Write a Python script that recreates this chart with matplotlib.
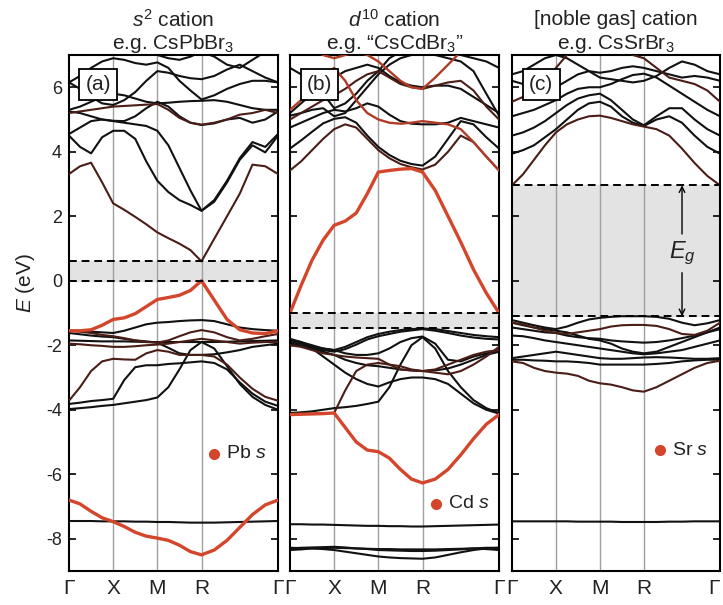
import matplotlib
matplotlib.use('Agg')
import matplotlib.pyplot as plt

plt.rcParams['font.family'] = ['Liberation Sans', 'DejaVu Sans']
plt.rcParams['mathtext.fontset'] = 'custom'
plt.rcParams['mathtext.rm'] = 'Liberation Sans'
plt.rcParams['mathtext.it'] = 'Liberation Sans:italic'
plt.rcParams['axes.unicode_minus'] = False

# k-path (Γ-X-M-R-Γ) sample positions
k_path = [0.0, 0.125, 0.25, 0.375, 0.5, 0.625, 0.75, 0.875, 1.0, 1.125, 1.25, 1.375, 1.5,
          1.644, 1.789, 1.933, 2.077, 2.222, 2.366]
k_ticks = [0.0, 0.5, 1.0, 1.5, 2.366]
k_labels = ['Γ', 'X', 'M', 'R', 'Γ']

# ---------------- (a) CsPbBr3 ----------------
a_red = [
    [-1.55, -1.55, -1.52, -1.38, -1.2, -1.15, -1.02, -0.8, -0.58, -0.52, -0.45, -0.3, 0.0, -0.6, -1.2, -1.52, -1.62, -1.64, -1.55],
    [-6.8, -6.92, -7.15, -7.35, -7.47, -7.62, -7.8, -7.92, -7.98, -8.05, -8.2, -8.4, -8.5, -8.35, -8.05, -7.65, -7.25, -6.95, -6.8],
]
a_dark = [
    [3.31, 3.55, 3.66, 3.05, 2.4, 2.2, 1.98, 1.75, 1.5, 1.32, 1.15, 0.95, 0.6, 1.3, 2.0, 2.7, 3.6, 3.55, 3.31],
    [5.2, 5.25, 5.3, 5.35, 5.4, 5.42, 5.44, 5.46, 5.48, 5.3, 5.05, 4.9, 4.84, 4.9, 5.0, 5.15, 5.2, 5.3, 5.2],
    [-1.55, -1.58, -1.62, -1.68, -1.72, -1.78, -1.85, -1.9, -1.92, -1.85, -1.72, -1.6, -1.53, -1.6, -1.75, -1.85, -1.8, -1.72, -1.65],
    [-3.72, -3.3, -2.8, -2.5, -2.42, -2.44, -2.45, -2.25, -2.15, -2.2, -2.3, -2.3, -2.3, -2.35, -2.6, -3.0, -3.35, -3.6, -3.72],
    [-1.95, -1.97, -2.0, -2.02, -2.05, -2.05, -2.03, -2.0, -1.98, -1.95, -1.9, -1.85, -1.8, -1.85, -1.9, -1.95, -1.92, -1.9, -1.9],
]
a_black = [
    [4.5, 4.15, 3.95, 4.45, 4.65, 4.65, 4.4, 3.7, 3.1, 2.75, 2.5, 2.35, 2.17, 2.45, 3.05, 3.75, 4.2, 3.98, 4.5],
    [4.55, 4.75, 4.95, 5.0, 4.95, 4.9, 4.85, 4.8, 4.65, 4.2, 3.5, 2.8, 2.17, 2.5, 3.1, 3.8, 4.3, 4.15, 4.55],
    [5.25, 5.2, 5.1, 5.0, 4.96, 4.95, 5.1, 5.35, 5.55, 5.4, 5.1, 4.9, 4.83, 4.88, 5.0, 5.05, 4.9, 5.0, 5.25],
    [5.3, 5.4, 5.55, 5.7, 5.8, 5.75, 5.65, 5.55, 5.5, 5.52, 5.55, 5.57, 5.58, 5.6, 5.55, 5.45, 5.35, 5.3, 5.3],
    [6.15, 5.95, 5.7, 5.5, 5.45, 5.6, 5.85, 6.2, 6.5, 6.45, 6.35, 6.28, 6.25, 6.35, 6.55, 6.7, 6.5, 6.3, 6.15],
    [6.15, 6.35, 6.6, 6.8, 6.9, 6.85, 6.75, 6.7, 6.77, 6.6, 6.2, 5.9, 5.62, 5.75, 5.95, 6.1, 6.2, 6.2, 6.15],
    [7.3, 7.2, 7.1, 7.0, 7.05, 7.15, 7.3, 7.2, 7.0, 6.9, 6.85, 6.95, 7.1, 6.95, 6.7, 6.6, 6.85, 7.1, 7.3],
    [-1.55, -1.56, -1.58, -1.6, -1.62, -1.55, -1.45, -1.35, -1.3, -1.28, -1.25, -1.23, -1.22, -1.25, -1.35, -1.45, -1.5, -1.53, -1.55],
    [-1.85, -1.86, -1.87, -1.88, -1.88, -1.88, -1.89, -1.9, -1.9, -1.9, -1.9, -1.9, -1.9, -1.9, -1.89, -1.88, -1.87, -1.86, -1.85],
    [-1.62, -1.66, -1.7, -1.73, -1.75, -1.8, -1.85, -1.88, -1.92, -2.08, -2.25, -2.3, -2.3, -2.28, -2.22, -2.15, -2.05, -2.0, -1.95],
    [-3.82, -3.78, -3.73, -3.7, -3.66, -3.08, -2.68, -2.62, -2.62, -2.58, -2.56, -2.53, -2.5, -2.55, -2.75, -3.15, -3.5, -3.75, -3.88],
    [-3.98, -3.95, -3.92, -3.88, -3.85, -3.8, -3.75, -3.7, -3.62, -3.3, -2.75, -2.15, -1.9, -2.1, -2.65, -3.2, -3.6, -3.85, -4.0],
    [-7.45, -7.45, -7.45, -7.46, -7.46, -7.46, -7.47, -7.47, -7.48, -7.48, -7.49, -7.5, -7.5, -7.5, -7.49, -7.48, -7.47, -7.46, -7.45],
]
a_gap = (0.0, 0.6)

# ---------------- (b) "CsCdBr3" ----------------
b_red = [
    [-1.0, -0.15, 0.64, 1.26, 1.72, 1.85, 2.1, 2.7, 3.37, 3.42, 3.46, 3.48, 3.37, 2.8, 2.0, 1.2, 0.35, -0.38, -1.0],
    [-4.15, -4.14, -4.13, -4.12, -4.1, -4.55, -5.0, -5.25, -5.3, -5.5, -5.85, -6.15, -6.27, -6.15, -5.85, -5.4, -4.9, -4.45, -4.15],
]
b_mid = [
    [5.3, 5.6, 5.9, 6.3, 6.6, 6.2, 5.6, 5.2, 5.0, 4.9, 4.87, 4.9, 4.95, 4.9, 4.85, 4.7, 4.3, 3.85, 3.42],
    [7.5, 7.4, 7.2, 7.0, 6.9, 7.0, 7.1, 7.0, 6.8, 6.5, 6.2, 6.0, 5.95, 6.3, 6.7, 7.1, 7.3, 7.4, 7.5],
]
b_dark = [
    [3.42, 3.7, 4.05, 4.4, 4.7, 4.85, 4.75, 4.4, 4.05, 3.8, 3.62, 3.52, 3.45, 3.6, 4.0, 4.5, 4.3, 3.85, 3.42],
    [5.0, 5.2, 5.4, 5.6, 5.75, 5.95, 6.2, 6.4, 6.5, 6.3, 6.1, 6.0, 5.95, 6.05, 6.15, 6.2, 5.9, 5.4, 5.0],
    [-4.15, -4.13, -4.12, -4.11, -4.1, -3.4, -2.8, -2.6, -2.55, -2.6, -2.65, -2.75, -2.8, -2.75, -2.6, -2.45, -2.3, -2.2, -2.15],
    [-2.0, -2.05, -2.15, -2.25, -2.3, -2.35, -2.38, -2.4, -2.42, -2.6, -2.75, -2.78, -2.8, -2.85, -2.9, -2.8, -2.6, -2.35, -2.05],
]
b_black = [
    [4.1, 4.35, 4.62, 4.88, 5.02, 5.07, 4.9, 4.5, 4.15, 3.9, 3.72, 3.62, 3.57, 3.85, 4.4, 4.95, 4.85, 4.45, 4.1],
    [5.2, 5.5, 5.8, 6.1, 6.3, 6.5, 6.6, 6.7, 6.6, 6.35, 6.15, 6.05, 6.0, 6.05, 6.05, 5.95, 5.7, 5.45, 5.2],
    [4.75, 4.9, 5.05, 5.2, 5.3, 5.25, 5.35, 5.5, 5.4, 5.15, 4.95, 4.87, 4.85, 4.85, 4.9, 5.05, 4.95, 4.85, 4.75],
    [5.12, 5.2, 5.3, 5.35, 5.1, 5.2, 5.6, 6.0, 6.4, 6.7, 6.9, 7.0, 7.1, 7.0, 6.9, 6.8, 6.5, 5.8, 5.12],
    [6.6, 6.4, 6.1, 5.8, 5.35, 5.5, 5.8, 6.2, 6.5, 6.9, 7.1, 7.2, 7.3, 7.2, 7.1, 7.0, 6.9, 6.8, 6.6],
    [-1.85, -1.9, -2.0, -2.1, -2.15, -2.05, -1.9, -1.75, -1.65, -1.58, -1.53, -1.5, -1.48, -1.5, -1.56, -1.62, -1.68, -1.72, -1.75],
    [-1.9, -1.95, -2.05, -2.15, -2.2, -2.12, -1.98, -1.82, -1.72, -1.65, -1.58, -1.54, -1.5, -1.55, -1.62, -1.7, -1.76, -1.8, -1.82],
    [-2.0, -2.02, -2.05, -2.1, -2.15, -2.25, -2.3, -2.3, -2.25, -2.1, -1.9, -1.78, -1.73, -1.95, -2.45, -2.5, -2.35, -2.25, -2.2],
    [-4.1, -4.08, -4.05, -4.0, -3.95, -3.92, -3.88, -3.82, -3.75, -3.3, -2.6, -2.0, -1.75, -2.1, -2.8, -3.3, -3.7, -3.95, -4.1],
    [-1.95, -2.0, -2.1, -2.2, -2.3, -2.45, -2.55, -2.62, -2.65, -2.7, -2.75, -2.78, -2.8, -2.78, -2.72, -2.6, -2.45, -2.3, -2.2],
    [-1.8, -1.9, -2.1, -2.35, -2.6, -2.85, -3.05, -3.2, -3.28, -3.15, -3.05, -3.0, -3.0, -3.05, -3.2, -3.5, -3.8, -4.0, -4.12],
    [-7.55, -7.55, -7.56, -7.56, -7.57, -7.58, -7.59, -7.6, -7.6, -7.61, -7.61, -7.62, -7.62, -7.61, -7.6, -7.59, -7.58, -7.57, -7.56],
    [-8.28, -8.29, -8.3, -8.32, -8.35, -8.4, -8.45, -8.5, -8.55, -8.58, -8.6, -8.61, -8.62, -8.58, -8.5, -8.42, -8.35, -8.3, -8.28],
    [-8.3, -8.28, -8.27, -8.26, -8.25, -8.27, -8.3, -8.32, -8.35, -8.36, -8.37, -8.38, -8.38, -8.37, -8.35, -8.33, -8.3, -8.28, -8.28],
    [-8.35, -8.33, -8.3, -8.29, -8.28, -8.29, -8.3, -8.31, -8.32, -8.32, -8.33, -8.33, -8.33, -8.33, -8.32, -8.31, -8.3, -8.32, -8.35],
]
b_gap = (-1.47, -1.0)

# ---------------- (c) CsSrBr3 ----------------
c_dark = [
    [-2.5, -2.55, -2.7, -2.8, -2.85, -2.88, -2.95, -3.1, -3.18, -3.22, -3.3, -3.4, -3.44, -3.3, -3.1, -2.9, -2.7, -2.55, -2.48],
    [-1.3, -1.35, -1.45, -1.55, -1.62, -1.65, -1.6, -1.55, -1.5, -1.42, -1.38, -1.37, -1.37, -1.4, -1.5, -1.65, -1.68, -1.55, -1.3],
    [2.96, 3.3, 3.75, 4.2, 4.6, 4.85, 5.0, 5.1, 5.12, 5.05, 4.95, 4.85, 4.78, 4.7, 4.5, 4.1, 3.65, 3.25, 2.96],
    [5.55, 5.7, 5.9, 6.2, 6.6, 7.0, 7.3, 7.5, 7.5, 7.4, 7.2, 7.0, 6.9, 6.6, 6.3, 6.2, 6.1, 5.9, 5.55],
]
c_black = [
    [3.94, 4.05, 4.2, 4.45, 4.7, 5.0, 5.3, 5.5, 5.55, 5.4, 5.1, 4.9, 4.8, 5.0, 5.1, 4.9, 4.5, 4.15, 3.94],
    [4.5, 4.6, 4.75, 4.95, 5.2, 5.45, 5.65, 5.75, 5.8, 5.6, 5.3, 5.0, 4.82, 5.1, 5.35, 5.35, 5.0, 4.7, 4.5],
    [5.1, 5.2, 5.3, 5.45, 5.6, 5.8, 5.95, 6.0, 6.0, 6.1, 6.25, 6.38, 6.42, 6.3, 6.05, 5.8, 5.55, 5.3, 5.1],
    [6.2, 6.1, 6.0, 5.95, 6.0, 6.2, 6.4, 6.5, 6.45, 6.5, 6.6, 6.65, 6.6, 6.5, 6.4, 6.3, 6.35, 6.3, 6.2],
    [6.4, 6.5, 6.7, 6.9, 7.0, 6.9, 6.7, 6.5, 6.3, 6.25, 6.2, 6.15, 6.2, 6.35, 6.6, 6.8, 6.7, 6.5, 6.4],
    [-1.22, -1.3, -1.38, -1.45, -1.5, -1.42, -1.3, -1.2, -1.15, -1.12, -1.1, -1.1, -1.1, -1.12, -1.18, -1.3, -1.38, -1.32, -1.22],
    [-1.3, -1.38, -1.45, -1.5, -1.55, -1.6, -1.7, -1.8, -1.85, -1.95, -2.1, -2.2, -2.25, -2.2, -2.05, -1.9, -1.75, -1.6, -1.45],
    [-1.45, -1.5, -1.55, -1.6, -1.62, -1.7, -1.75, -1.78, -1.8, -1.85, -1.88, -1.9, -1.92, -1.9, -1.85, -1.78, -1.7, -1.6, -1.5],
    [-1.7, -1.72, -1.78, -1.85, -1.9, -1.95, -2.0, -2.05, -2.1, -2.15, -2.2, -2.25, -2.28, -2.25, -2.2, -2.15, -2.05, -1.95, -1.85],
    [-2.45, -2.45, -2.47, -2.48, -2.5, -2.5, -2.52, -2.55, -2.6, -2.6, -2.6, -2.6, -2.6, -2.58, -2.55, -2.5, -2.47, -2.45, -2.45],
    [-2.4, -2.35, -2.3, -2.25, -2.2, -2.25, -2.3, -2.35, -2.4, -2.42, -2.42, -2.4, -2.38, -2.37, -2.38, -2.4, -2.42, -2.42, -2.4],
    [-7.46, -7.46, -7.46, -7.46, -7.46, -7.46, -7.47, -7.47, -7.47, -7.47, -7.48, -7.48, -7.48, -7.48, -7.47, -7.47, -7.46, -7.46, -7.46],
]
c_gap = (-1.1, 2.96)

titles1 = ['$s^2$ cation', '$d^{10}$ cation', '[noble gas] cation']
titles2 = ['e.g. CsPbBr$_3$', 'e.g. \u201cCsCdBr$_3$\u201d', 'e.g. CsSrBr$_3$']
tags = ['(a)', '(b)', '(c)']
legend_txt = ['Pb $s$', 'Cd $s$', 'Sr $s$']

RED = '#d4462b'
MID = '#b03c28'
DARK = '#4a1d16'
BLK = '#111111'
TXT = '#222222'

fig = plt.figure(figsize=(7.23, 6.05), dpi=100)
lefts = [69, 290, 512]
widths = [209, 209, 208]
legend_pos = [(0.694, 0.227), (0.699, 0.130), (0.712, 0.234)]

panels = [
    (a_black, a_dark, [], a_red, a_gap),
    (b_black, b_dark, b_mid, b_red, b_gap),
    (c_black, c_dark, [], [], c_gap),
]

for i, (blk, dark, mid, red, gap) in enumerate(panels):
    ax = fig.add_axes([lefts[i] / 723, 1 - 571 / 605, widths[i] / 723, 516 / 605])
    ax.set_xlim(0, 2.366)
    ax.set_ylim(-9, 7)
    ax.axhspan(gap[0], gap[1], color='#e3e3e3', zorder=0)
    for kt in k_ticks[1:-1]:
        ax.axvline(kt, color='#a0a0a0', lw=1.0, zorder=1)
    for band in blk:
        ax.plot(k_path, band, color=BLK, lw=1.5, zorder=2, solid_joinstyle='round')
    for band in dark:
        ax.plot(k_path, band, color=DARK, lw=1.5, zorder=3, solid_joinstyle='round')
    for band in mid:
        ax.plot(k_path, band, color=MID, lw=1.7, zorder=3, solid_joinstyle='round')
    for band in red:
        ax.plot(k_path, band, color=RED, lw=2.4, zorder=4, solid_joinstyle='round')
    for g in gap:
        ax.axhline(g, color='black', lw=1.4, ls=(0, (4, 2.5)), zorder=5)

    ax.set_xticks(k_ticks)
    ax.set_xticklabels(k_labels, fontsize=15, color=TXT)
    ax.tick_params(axis='x', length=0, pad=6)
    if i == 2:
        ax.get_xticklabels()[-1].set_ha('right')
    ax.set_yticks(range(-8, 7, 2))
    ax.tick_params(axis='y', direction='in', left=True, right=True, length=5, width=1.2,
                   labelsize=13, labelcolor=TXT, pad=5)
    if i > 0:
        ax.set_yticklabels([])
    for sp in ax.spines.values():
        sp.set_linewidth(1.5)

    ax.text(0.141, 0.943, tags[i], transform=ax.transAxes, fontsize=15, color=TXT,
            ha='center', va='center', zorder=10,
            bbox=dict(boxstyle='square,pad=0.3', fc='white', ec='black', lw=1.3))

    lx, ly = legend_pos[i]
    ax.plot([lx], [ly], 'o', color=RED, ms=7, transform=ax.transAxes, zorder=10)
    ax.text(lx + 0.055, ly, legend_txt[i], transform=ax.transAxes, fontsize=14,
            color=TXT, ha='left', va='center', zorder=10)

    cx = (lefts[i] + widths[i] / 2) / 723
    fig.text(cx, 0.968, titles1[i], ha='center', va='center', fontsize=15, color=TXT)
    fig.text(cx, 0.928, titles2[i], ha='center', va='center', fontsize=15, color=TXT)

    if i == 2:
        kx = 1.934
        ax.annotate('', xy=(kx, gap[1]), xytext=(kx, 1.45),
                    arrowprops=dict(arrowstyle='->', lw=1.0, color='black', shrinkA=0, shrinkB=0))
        ax.annotate('', xy=(kx, gap[0]), xytext=(kx, 0.25),
                    arrowprops=dict(arrowstyle='->', lw=1.0, color='black', shrinkA=0, shrinkB=0))
        ax.text(kx, 0.85, '$E_g$', fontsize=17, ha='center', va='center', color=TXT)

fig.text(0.035, 0.532, '$E$ (eV)', rotation=90, ha='center', va='center', fontsize=15, color=TXT)

fig.savefig('out.png', dpi=100)
